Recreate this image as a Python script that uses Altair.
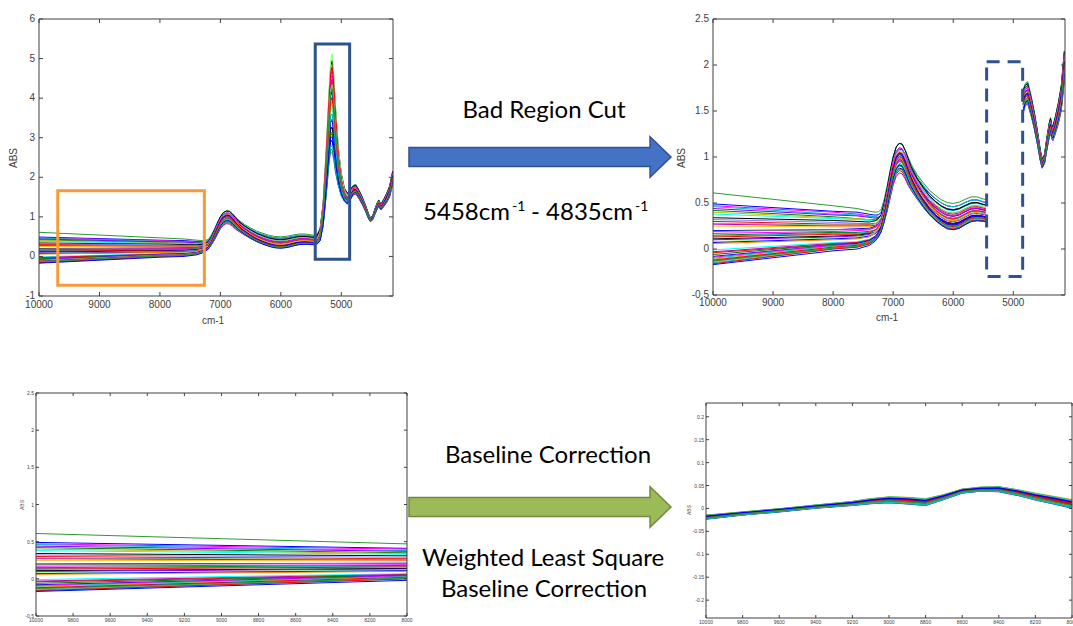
import altair as alt
import pandas as pd

W, H = 1073, 626
AXC = "#404040"
AXF = "Liberation Sans"
TXF = "Lato"

# ---------------- raw NIR spectra (read from the top-left / top-right panels) ----------------
wavenumber = [10000, 8000, 7600, 7400, 7300, 7250, 7200, 7150, 7100, 7050, 7000, 6950, 6900, 6850,
              6800, 6750, 6700, 6600, 6500, 6400, 6300, 6200, 6100, 6000, 5900, 5800, 5700, 5600,
              5500, 5458, 5400, 5350, 5300, 5250, 5200, 5175, 5150, 5125, 5100, 5050, 5000, 4950,
              4900, 4835, 4800, 4760, 4700, 4650, 4600, 4550, 4520, 4480, 4440, 4400, 4380, 4360,
              4340, 4300, 4250, 4200, 4150]
mean_abs = [0.22, 0.22, 0.22, 0.225, 0.24, 0.26, 0.30, 0.41, 0.55, 0.71, 0.86, 0.96, 1.00, 0.99,
            0.93, 0.85, 0.78, 0.67, 0.58, 0.50, 0.44, 0.39, 0.355, 0.345, 0.36, 0.395, 0.425, 0.43,
            0.415, 0.41, 0.43, 0.55, 1.05, 2.1, 3.3, 3.75, 3.8, 3.5, 3.0, 2.25, 1.8, 1.55,
            1.45, 1.6, 1.68, 1.7, 1.55, 1.4, 1.22, 1.02, 0.93, 0.98, 1.15, 1.3, 1.35, 1.28,
            1.26, 1.35, 1.48, 1.65, 2.0]
baseline_weight = [1, 1, 1, 0.85, 0.7, 0.6, 0.5, 0.45, 0.4, 0.38, 0.36, 0.35, 0.35, 0.36,
                   0.38, 0.4, 0.42, 0.46, 0.5, 0.53, 0.56, 0.58, 0.6, 0.6, 0.6, 0.58, 0.56, 0.54,
                   0.5, 0.5, 0.48, 0.45, 0.4, 0.35, 0.3, 0.3, 0.3, 0.3, 0.3, 0.3, 0.3, 0.3,
                   0.3, 0.35, 0.35, 0.35, 0.33, 0.3, 0.25, 0.2, 0.15, 0.15, 0.2, 0.22, 0.22, 0.22,
                   0.22, 0.25, 0.28, 0.3, 0.35]
band_spread = [0, 0, 0, 0, 0.01, 0.02, 0.03, 0.05, 0.08, 0.1, 0.11, 0.12, 0.12, 0.12,
               0.11, 0.1, 0.08, 0.06, 0.05, 0.04, 0.035, 0.03, 0.03, 0.03, 0.03, 0.03, 0.03, 0.03,
               0.03, 0.03, 0.03, 0.04, 0.05, 0.05, 0.05, 0.05, 0.05, 0.05, 0.05, 0.05, 0.05, 0.05,
               0.05, 0.06, 0.07, 0.07, 0.06, 0.05, 0.04, 0.03, 0.03, 0.03, 0.04, 0.05, 0.05, 0.05,
               0.05, 0.06, 0.08, 0.1, 0.12]
peak_spread = [0, 0, 0, 0, 0, 0, 0, 0, 0, 0, 0, 0, 0, 0,
               0, 0, 0, 0, 0, 0, 0, 0, 0, 0, 0, 0, 0, 0,
               0, 0, 0.02, 0.08, 0.25, 0.55, 0.9, 1.1, 1.2, 1.05, 0.85, 0.45, 0.25, 0.12,
               0.08, 0.05, 0, 0, 0, 0, 0, 0, 0, 0, 0, 0, 0, 0,
               0, 0, 0, 0, 0]

abs_10000 = [0.61, 0.49, 0.47, 0.46, 0.44, 0.42, 0.40, 0.38, 0.34, 0.32, 0.30, 0.28, 0.27, 0.25,
             0.20, 0.19, 0.17, 0.15, 0.14, 0.13, 0.11, 0.10, 0.08, 0.07, 0.06,
             -0.01, -0.03, -0.04, -0.06, -0.08, -0.09, -0.10, -0.11, -0.12, -0.13, -0.14, -0.15,
             -0.16, -0.17, -0.13]
abs_8000 = [0.47, 0.41, 0.40, 0.38, 0.37, 0.35, 0.34, 0.33, 0.31, 0.29, 0.27, 0.26, 0.25, 0.24,
            0.21, 0.21, 0.19, 0.18, 0.17, 0.16, 0.14, 0.13, 0.12, 0.11, 0.10,
            0.07, 0.06, 0.05, 0.05, 0.04, 0.04, 0.03, 0.02, 0.02, 0.01, 0.01, 0.00,
            0.00, -0.02, 0.01]
abs_7600 = [0.44, 0.40, 0.38, 0.37, 0.36, 0.33, 0.33, 0.32, 0.30, 0.28, 0.27, 0.26, 0.25, 0.24,
            0.22, 0.21, 0.20, 0.18, 0.17, 0.16, 0.15, 0.14, 0.13, 0.12, 0.11,
            0.08, 0.07, 0.07, 0.06, 0.06, 0.05, 0.05, 0.04, 0.04, 0.03, 0.03, 0.02,
            0.02, 0.00, 0.03]
band_dev = [0.6, 0.2, -0.4, 0.8, -0.2, 0.5, -0.7, 0.3, 1.0, -0.5, 0.1, 0.7, -0.3, -0.9,
            0.4, -0.1, 0.9, -0.6, 0.2, 0.6, -0.8, 0.0, 0.5, -0.4, 0.8,
            -0.2, -1.0, 0.3, -0.6, 0.7, 0.1, -0.3, 0.4, -0.7, 0.9, 0.0, -0.5, 0.6, -0.1, 0.2]
peak_dev = [0.3, -0.8, 0.5, 0.1, -0.5, 0.7, 0.2, -0.2, 0.9, -1.0, 0.4, 0.0, -0.6, 0.6,
            0.3, -0.3, 0.8, -0.9, 0.1, 0.5, -0.4, 0.2, 1.1, -0.7, 0.4,
            0.0, -0.2, 0.6, -0.5, 0.3, 0.7, -0.8, 0.1, 0.9, -0.3, 0.5, -0.1, 0.2, -0.6, 0.4]
line_colors = ['#2E9A2E',
               '#0000FF', '#FF00FF', '#00BFBF', '#7F00FF', '#008000', '#BFBF00', '#00FFFF', '#000000', '#8080FF',
               '#FF0000', '#80C080', '#BF00BF', '#FFBF00', '#0000FF', '#808080', '#FF00FF', '#008000', '#00BFBF', '#FF0000',
               '#000000', '#8000FF', '#80FF80', '#0000FF', '#FF8000', '#00FFFF', '#BF00BF', '#FF0000', '#008000', '#0000FF',
               '#FF00FF', '#00BFBF', '#BFBF00', '#FF0000', '#0000FF', '#80C080', '#00BFBF', '#FF0000', '#0000FF', '#2E9A2E']

# ---------------- baseline-corrected spectra (bottom-right panel) ----------------
wn_corr = [10000, 9800, 9600, 9400, 9200, 9100, 9000, 8900, 8800, 8700, 8600, 8500, 8400, 8300, 8200, 8100, 8000]
corr_mean = [-0.019, -0.011, -0.004, 0.004, 0.011, 0.016, 0.019, 0.017, 0.014, 0.025, 0.038, 0.042, 0.042,
             0.035, 0.026, 0.018, 0.010]
corr_spread = [0.004, 0.003, 0.003, 0.003, 0.004, 0.005, 0.006, 0.007, 0.007, 0.005, 0.004, 0.004, 0.005,
               0.006, 0.007, 0.008, 0.009]
corr_dev = [0.8, -0.3, 0.5, -0.9, 0.1, 0.6, -0.5, 0.9, -0.1, 0.3, -0.7, 0.4, -0.2, 1.0, -0.6, 0.2, -0.8,
            0.7, 0.0, -0.4, 0.5, -1.0, 0.3, -0.3, 0.8, -0.5, 0.1, 0.6, -0.7, 0.2, -0.1, 0.9, -0.6, 0.4,
            -0.2, 0.7, -0.9, 0.0, 0.5, -0.4]

# ---------------- tick labels ----------------
ticks_top_x = [10000, 9000, 8000, 7000, 6000, 5000]
ticks_tl_y = [-1, 0, 1, 2, 3, 4, 5, 6]
ticks_tr_y = [-0.5, 0, 0.5, 1, 1.5, 2, 2.5]
ticks_bot_x = [10000, 9800, 9600, 9400, 9200, 9000, 8800, 8600, 8400, 8200, 8000]
ticks_bl_y = [-0.5, 0, 0.5, 1, 1.5, 2, 2.5]
ticks_br_y = [-0.2, -0.15, -0.1, -0.05, 0, 0.05, 0.1, 0.15, 0.2]

# ---------------- texts ----------------
y_title = "ABS"
x_title = "cm-1"
txt_cut = "Bad Region Cut"
txt_range = ["5458cm", "-1", "- 4835cm", "-1"]
txt_base = "Baseline Correction"
txt_wls = ["Weighted Least Square", "Baseline Correction"]

names = [f"s{i:02d}" for i in range(len(abs_10000))]

rows = []
for i, nm in enumerate(names):
    for j, x in enumerate(wavenumber):
        if x == 10000:
            base = abs_10000[i]
        elif x == 8000:
            base = abs_8000[i]
        else:
            base = abs_7600[i]
        y = (mean_abs[j] + baseline_weight[j] * (base - 0.22)
             + band_dev[i] * band_spread[j] + peak_dev[i] * peak_spread[j])
        seg = "a" if x >= 5458 else ("b" if x <= 4835 else "cut")
        rows.append({"s": nm, "x": x, "y": round(y, 4), "seg": seg})
raw = pd.DataFrame(rows)
cut = raw[raw.seg != "cut"].copy()
low = raw[raw.x >= 8000].copy()

crow = []
for i, nm in enumerate(names):
    for j, x in enumerate(wn_corr):
        crow.append({"s": nm, "x": x, "y": round(corr_mean[j] + corr_dev[i] * corr_spread[j], 5), "seg": "a"})
corr = pd.DataFrame(crow)


def panel(lines, xdom, ydom, xr, yr, xticks, yticks, lab, tick_len=4, ylab_dx=-4, xlab_dy=6,
          detail=False, boxes=(), sw=1.0):
    xs = alt.Scale(domain=xdom, range=xr, nice=False, zero=False)
    ys = alt.Scale(domain=ydom, range=yr, nice=False, zero=False)
    enc = dict(
        x=alt.X("x:Q", scale=xs, axis=None),
        y=alt.Y("y:Q", scale=ys, axis=None),
        color=alt.Color("s:N", scale=alt.Scale(domain=names, range=line_colors), legend=None),
    )
    if detail:
        enc["detail"] = alt.Detail("seg:N")
    layers = [alt.Chart(lines).mark_line(strokeWidth=sw).encode(**enc)]

    for bdf, kw in boxes:
        layers.append(
            alt.Chart(bdf).mark_rect(fillOpacity=0, **kw).encode(
                x=alt.X("x1:Q", scale=xs, axis=None), x2="x2:Q",
                y=alt.Y("y1:Q", scale=ys, axis=None), y2="y2:Q"))

    frame = pd.DataFrame({"x1": [xdom[0]], "x2": [xdom[1]], "y1": [ydom[0]], "y2": [ydom[1]]})
    layers.append(
        alt.Chart(frame).mark_rect(fillOpacity=0, stroke=AXC, strokeWidth=1).encode(
            x=alt.X("x1:Q", scale=xs, axis=None), x2="x2:Q",
            y=alt.Y("y1:Q", scale=ys, axis=None), y2="y2:Q"))

    half = tick_len / 2
    for yv, off in ((ydom[0], -half), (ydom[1], half)):
        tdf = pd.DataFrame({"tx": xticks, "ty": [yv] * len(xticks)})
        layers.append(
            alt.Chart(tdf).mark_tick(orient="vertical", size=tick_len, thickness=1, yOffset=off,
                                     color=AXC, opacity=1).encode(
                x=alt.X("tx:Q", scale=xs, axis=None), y=alt.Y("ty:Q", scale=ys, axis=None)))
    for xv, off in ((xdom[0], half), (xdom[1], -half)):
        tdf = pd.DataFrame({"tx": [xv] * len(yticks), "ty": yticks})
        layers.append(
            alt.Chart(tdf).mark_tick(orient="horizontal", size=tick_len, thickness=1, xOffset=off,
                                     color=AXC, opacity=1).encode(
                x=alt.X("tx:Q", scale=xs, axis=None), y=alt.Y("ty:Q", scale=ys, axis=None)))

    # tick labels, placed through the panel scales
    xl = pd.DataFrame({"tx": xticks, "ty": [ydom[0]] * len(xticks), "lab": [str(v) for v in xticks]})
    layers.append(
        alt.Chart(xl).mark_text(font=AXF, fontSize=lab, color=AXC, align="center",
                                baseline="middle", dy=xlab_dy).encode(
            x=alt.X("tx:Q", scale=xs, axis=None), y=alt.Y("ty:Q", scale=ys, axis=None),
            text="lab:N"))
    yl = pd.DataFrame({"tx": [xdom[0]] * len(yticks), "ty": yticks, "lab": [str(v) for v in yticks]})
    layers.append(
        alt.Chart(yl).mark_text(font=AXF, fontSize=lab, color=AXC, align="right",
                                baseline="middle", dx=ylab_dx).encode(
            x=alt.X("tx:Q", scale=xs, axis=None), y=alt.Y("ty:Q", scale=ys, axis=None),
            text="lab:N"))
    return alt.layer(*layers)


orange_box = pd.DataFrame({"x1": [9690], "x2": [7265], "y1": [1.66], "y2": [-0.73]})
blue_box = pd.DataFrame({"x1": [5431], "x2": [4862], "y1": [5.37], "y2": [-0.07]})
dash_box = pd.DataFrame({"x1": [5444], "x2": [4844], "y1": [2.036], "y2": [-0.30]})

pA = panel(raw, [10000, 4145], [-1, 6], [39, 393], [296, 19], ticks_top_x, ticks_tl_y, 10,
           xlab_dy=9,
           boxes=[(orange_box, dict(stroke="#F79B38", strokeWidth=3)),
                  (blue_box, dict(stroke="#2F528F", strokeWidth=3))])
pB = panel(cut, [10000, 4139], [-0.5, 2.5], [713, 1065], [295, 19], ticks_top_x, ticks_tr_y, 10,
           xlab_dy=8, detail=True,
           boxes=[(dash_box, dict(stroke="#2F528F", strokeWidth=3, strokeDash=[13, 8]))])
pC = panel(low, [10000, 8000], [-0.5, 2.5], [36, 407], [616, 393], ticks_bot_x, ticks_bl_y, 5,
           tick_len=3, ylab_dx=-2, xlab_dy=4)
pD = panel(corr, [10000, 8000], [-0.239, 0.23], [706, 1072], [618, 403], ticks_bot_x, ticks_br_y, 5,
           tick_len=3, ylab_dx=-2, xlab_dy=4, sw=1.5)

ARROW = "M-1,-0.0725L0.84,-0.0725L0.84,-0.155L1,0L0.84,0.155L0.84,0.0725L-1,0.0725Z"


def arrow(key, cx, cy, fill, stroke):
    return alt.Chart(pd.DataFrame({"k": [key]})).mark_point(
        shape=ARROW, size=262 * 262, filled=True, fill=fill, stroke=stroke,
        strokeWidth=1.5, opacity=1).encode(x=alt.value(cx), y=alt.value(cy))


def text(label, x, y, size=24, align="center", font=TXF, color="#000000", angle=0, baseline="alphabetic"):
    return alt.Chart(pd.DataFrame({"label": [label]})).mark_text(
        font=font, fontSize=size, align=align, baseline=baseline, color=color, angle=angle).encode(
        text="label:N", x=alt.value(x), y=alt.value(y))


ann = [
    arrow("cut", 540, 157, "#4472C4", "#2F528F"),
    arrow("base", 540, 507, "#9BBB59", "#71893F"),
    text(txt_cut, 544, 118),
    text(txt_range[0], 510, 220, align="right"),
    text(txt_range[1], 512, 211, size=14, align="left"),
    text(txt_range[2], 633, 220, align="right"),
    text(txt_range[3], 635, 211, size=14, align="left"),
    text(txt_base, 548, 463),
    text(txt_wls[0], 543, 566),
    text(txt_wls[1], 544, 597),
    # axis titles
    text(y_title, 14, 158, size=10, font=AXF, color=AXC, angle=270, baseline="middle"),
    text(x_title, 213, 321, size=10, font=AXF, color=AXC, baseline="middle"),
    text(y_title, 682, 158, size=10, font=AXF, color=AXC, angle=270, baseline="middle"),
    text(x_title, 887, 318, size=10, font=AXF, color=AXC, baseline="middle"),
    text(y_title, 22, 505, size=5, font=AXF, color=AXC, angle=270, baseline="middle"),
    text(y_title, 689, 510, size=5, font=AXF, color=AXC, angle=270, baseline="middle"),
]

chart = alt.layer(pA, pB, pC, pD, *ann).resolve_scale(
    x="independent", y="independent", color="independent"
).properties(
    width=W, height=H, autosize=alt.AutoSizeParams(type="none"),
    padding={"left": 0, "top": 0, "right": 0, "bottom": 0}, background="white"
).configure_view(strokeWidth=0)

chart.save("out.html", embed_options={"renderer": "svg", "actions": False})
